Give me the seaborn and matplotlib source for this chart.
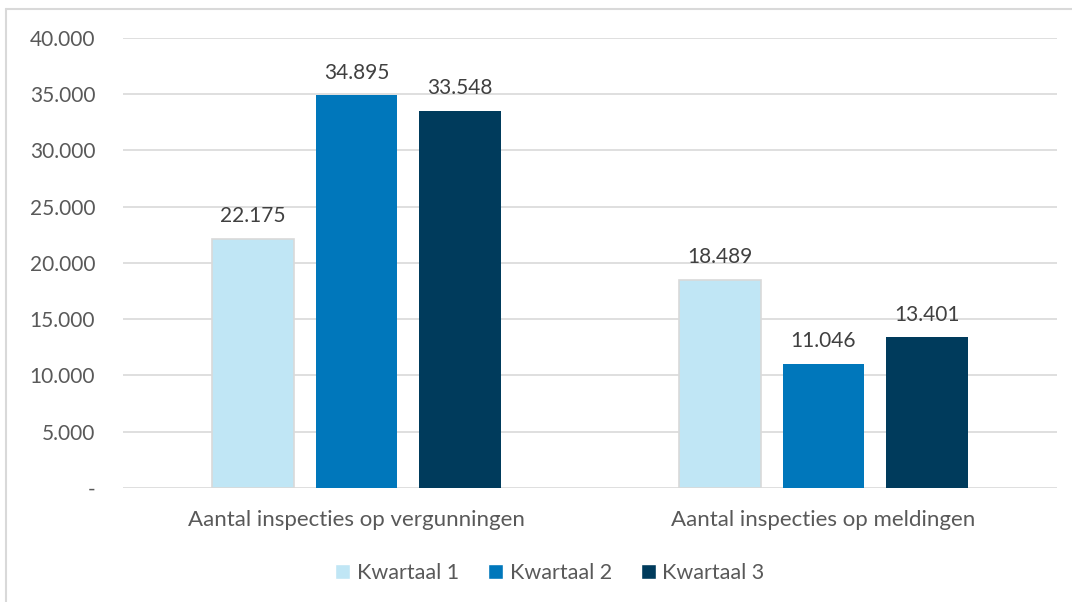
import matplotlib
matplotlib.use("Agg")
import matplotlib.pyplot as plt
import seaborn as sns
import pandas as pd
from matplotlib.ticker import FuncFormatter
from matplotlib.lines import Line2D

categories = ["Aantal inspecties op vergunningen", "Aantal inspecties op meldingen"]
series = ["Kwartaal 1", "Kwartaal 2", "Kwartaal 3"]
kwartaal1 = [22175, 18489]
kwartaal2 = [34895, 11046]
kwartaal3 = [33548, 13401]
colors = ["#C0E6F5", "#0077BB", "#003B5C"]

rows = []
for s, vals in zip(series, [kwartaal1, kwartaal2, kwartaal3]):
    for c, v in zip(categories, vals):
        rows.append({"cat": c, "serie": s, "val": v})
df = pd.DataFrame(rows)

sns.set_theme(style="white")
plt.rcParams['font.family'] = ['Lato', 'DejaVu Sans']

FS = 15
fig = plt.figure(figsize=(10.72, 6.02), dpi=100)
ax = fig.add_axes([0.1147, 0.1894, 0.8713, 0.7475])

sns.barplot(data=df, x="cat", y="val", hue="serie", palette=colors, saturation=1,
            width=0.665, gap=0.21, ax=ax, legend=True, zorder=3)

for cont, col in zip(ax.containers, colors):
    for p in cont:
        if col == colors[0]:
            p.set_edgecolor("#D9D9D9")
            p.set_linewidth(1.2)
        else:
            p.set_edgecolor("none")
    labels = [f"{int(v):,}".replace(",", ".") for v in cont.datavalues]
    ax.bar_label(cont, labels=labels, padding=9, fontsize=FS, color="#404040")

ax.set_ylim(0, 40000)
ax.set_xlim(-0.5, 1.5)
ax.set_yticks(range(0, 40001, 5000))
ax.yaxis.set_major_formatter(FuncFormatter(lambda v, p: "-" if v == 0 else f"{int(v):,}".replace(",", ".")))
ax.grid(axis="y", color="#D9D9D9", linewidth=1.2, zorder=0)
ax.set_axisbelow(True)
for s in ax.spines.values():
    s.set_visible(False)
ax.set_xlabel("")
ax.set_ylabel("")
ax.tick_params(axis="y", labelsize=FS, colors="#595959", length=0, pad=20)
ax.tick_params(axis="x", labelsize=16, colors="#595959", length=0, pad=16)

handles, labs = ax.get_legend_handles_labels()
fig.legend(handles, labs, loc="center", bbox_to_anchor=(550/1072, 1 - 573/602), ncol=3,
           frameon=False, fontsize=15.5, labelcolor="#595959",
           handlelength=0.7, handleheight=0.7, handletextpad=0.3, columnspacing=1.35)
ax.get_legend().remove()

# chart frame (left and top edges visible)
fig.add_artist(Line2D([6/1072, 6/1072], [0, 1 - 9/602], transform=fig.transFigure,
                      color="#D9D9D9", linewidth=1.5))
fig.add_artist(Line2D([6/1072, 1], [1 - 9/602, 1 - 9/602], transform=fig.transFigure,
                      color="#D9D9D9", linewidth=1.5))

fig.savefig("out.png", dpi=100)
